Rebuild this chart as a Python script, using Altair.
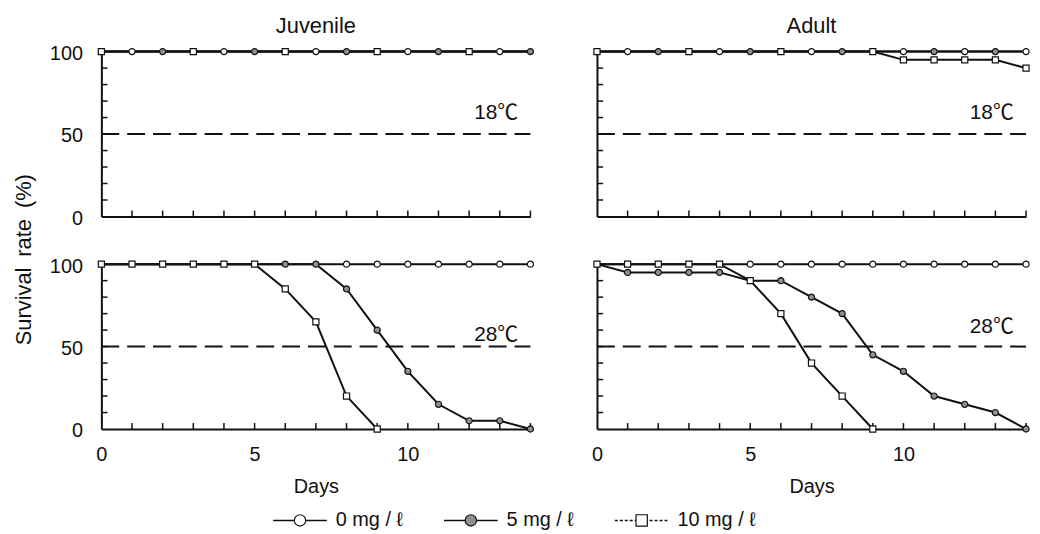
import altair as alt
import pandas as pd

# ---------------- data ----------------
days = [0, 1, 2, 3, 4, 5, 6, 7, 8, 9, 10, 11, 12, 13, 14]
conc_keys = ["0", "5", "10"]
conc_names = ["0 mg/ℓ", "5 mg/ℓ", "10 mg/ℓ"]
legend_labels = ["0 mg / ℓ", "5 mg / ℓ", "10 mg / ℓ"]
stage_titles = ["Juvenile", "Adult"]
temp_labels = ["18℃", "28℃"]

# Juvenile, 18 C
juv18_0 = [100, 100, 100, 100, 100, 100, 100, 100, 100, 100, 100, 100, 100, 100, 100]
juv18_5 = [100, 100, 100, 100, 100, 100, 100, 100, 100, 100, 100, 100, 100, 100, 100]
juv18_10 = [100, 100, 100, 100, 100, 100, 100, 100, 100, 100, 100, 100, 100, 100, 100]
# Adult, 18 C
ad18_0 = [100, 100, 100, 100, 100, 100, 100, 100, 100, 100, 100, 100, 100, 100, 100]
ad18_5 = [100, 100, 100, 100, 100, 100, 100, 100, 100, 100, 100, 100, 100, 100, 100]
ad18_10 = [100, 100, 100, 100, 100, 100, 100, 100, 100, 100, 95, 95, 95, 95, 90]
# Juvenile, 28 C
juv28_0 = [100, 100, 100, 100, 100, 100, 100, 100, 100, 100, 100, 100, 100, 100, 100]
juv28_5 = [100, 100, 100, 100, 100, 100, 100, 100, 85, 60, 35, 15, 5, 5, 0]
juv28_10 = [100, 100, 100, 100, 100, 100, 85, 65, 20, 0]
# Adult, 28 C
ad28_0 = [100, 100, 100, 100, 100, 100, 100, 100, 100, 100, 100, 100, 100, 100, 100]
ad28_5 = [100, 95, 95, 95, 95, 90, 90, 80, 70, 45, 35, 20, 15, 10, 0]
ad28_10 = [100, 100, 100, 100, 100, 90, 70, 40, 20, 0]

x_label_values = [0, 5, 10]
y_label_values = [0, 50, 100]
x_minor_ticks = [1, 2, 3, 4, 5, 6, 7, 8, 9, 10, 11, 12, 13, 14]
y_minor_ticks = [10, 20, 30, 40, 50, 60, 70, 80, 90]
half_line = [50]

# ---------------- styling ----------------
INK = "#111111"
NUM_FONT = '"Liberation Sans Narrow", "Liberation Sans", "Noto Sans CJK JP"'
TXT_FONT = '"Liberation Sans", "Noto Sans CJK JP"'
PW, PH = 432, 166

shape_scale = alt.Scale(domain=conc_names, range=["circle", "circle", "square"])
fill_scale = alt.Scale(domain=conc_names, range=["white", "#8f8f8f", "white"])
size_scale = alt.Scale(domain=conc_names, range=[38, 38, 85])
xs = alt.Scale(domain=[0, 14], nice=False, zero=False)
ys = alt.Scale(domain=[0, 100], nice=False)


def build_df(series, rotate):
    rows = []
    for k, name, vals in zip(conc_keys, conc_names, series):
        for d, v in zip(days, vals):
            rows.append({"day": d, "rate": v, "conc": name, "key": k})
    df = pd.DataFrame(rows)
    rot_order = ["10", "0", "5"]
    pri_order = ["10", "5", "0"]
    show = []
    for _, r in df.iterrows():
        keys = list(df[(df.day == r.day) & (df.rate == r.rate)].key)
        if len(keys) == 1:
            show.append(True)
            continue
        if rotate:
            ordered = [k for k in rot_order if k in keys]
            pick = ordered[int(r.day) % len(ordered)]
        else:
            pick = [k for k in pri_order if k in keys][0]
        show.append(pick == r.key)
    df["show"] = show
    return df


def panel(series, stage, temp, top, left, label_y, rotate):
    df = build_df(series, rotate)

    xkw = dict(values=x_label_values, labels=not top, labelFlush=False,
               labelPadding=16, titlePadding=12)
    xkw["title"] = "" if top else "Days"
    x_axis = alt.Axis(**xkw)

    ykw = dict(values=y_label_values, labels=left, labelPadding=19, labelOffset=2)
    if left and not top:
        ykw.update(title="Survival\u2002rate\u2002(%)", titleX=-78, titleY=-5,
                   titleAngle=270, titleAlign="center", titleBaseline="middle",
                   titleFontSize=22)
    else:
        ykw["title"] = ""
    y_axis = alt.Axis(**ykw)

    def X(f):
        return alt.X(f"{f}:Q", scale=xs, axis=x_axis)

    def Y(f):
        return alt.Y(f"{f}:Q", scale=ys, axis=y_axis)

    dashed = alt.Chart(pd.DataFrame({"rate": half_line})).mark_rule(
        strokeDash=[18, 8], strokeWidth=2, color=INK
    ).encode(x=alt.datum(0), x2=alt.datum(14), y=Y("rate"))

    lines = alt.Chart(df).mark_line(color=INK, strokeWidth=2).encode(
        x=X("day"), y=Y("rate"), detail="conc:N"
    )

    xt = pd.DataFrame({"day": x_minor_ticks})
    xticks = alt.Chart(xt).transform_calculate(rate="0", rate2="3.6").mark_rule(
        color=INK, strokeWidth=1.5
    ).encode(x=X("day"), y=Y("rate"), y2="rate2:Q")

    yt = pd.DataFrame({"rate": y_minor_ticks})
    yticks = alt.Chart(yt).transform_calculate(day="0", day2="0.2").mark_rule(
        color=INK, strokeWidth=1.5
    ).encode(y=Y("rate"), x=X("day"), x2="day2:Q")

    pts = alt.Chart(df).transform_filter("datum.show").mark_point(
        filled=True, stroke=INK, strokeWidth=1.2, opacity=1
    ).encode(
        x=X("day"), y=Y("rate"),
        shape=alt.Shape("conc:N", scale=shape_scale, legend=None),
        fill=alt.Fill("conc:N", scale=fill_scale, legend=None),
        size=alt.Size("conc:N", scale=size_scale, legend=None),
    )

    label = alt.Chart(pd.DataFrame({"t": [temp]})).mark_text(
        align="right", baseline="middle", font=NUM_FONT, fontSize=21, color=INK
    ).encode(x=alt.datum(13.6), y=alt.datum(label_y), text="t:N")

    layers = [dashed, lines, xticks, yticks, pts, label]
    if top:
        head = alt.Chart(pd.DataFrame({"s": [stage]})).mark_text(
            align="center", baseline="alphabetic", font=TXT_FONT, fontSize=22, color=INK
        ).encode(x=alt.datum(7), y=alt.datum(111.4), text="s:N")
        layers.append(head)
    return alt.layer(*layers).properties(width=PW, height=PH)


p1 = panel([juv18_0, juv18_5, juv18_10], stage_titles[0], temp_labels[0], True, True, 63, True)
p2 = panel([ad18_0, ad18_5, ad18_10], stage_titles[1], temp_labels[0], True, False, 63, True)
p3 = panel([juv28_0, juv28_5, juv28_10], stage_titles[0], temp_labels[1], False, True, 57, False)
p4 = panel([ad28_0, ad28_5, ad28_10], stage_titles[1], temp_labels[1], False, False, 62, False)

# ---------------- legend ----------------
legend_df = pd.DataFrame({
    "slot": [0, 1, 2],
    "conc": conc_names,
    "label": legend_labels,
    "row": ["legend", "legend", "legend"],
})
lx = alt.X("slot:Q", scale=alt.Scale(domain=[0, 2], range=[200, 544]), axis=None)
ly = alt.Y("row:N", axis=None)

leg_rule = alt.Chart(legend_df).mark_rule(
    color=INK, strokeWidth=1.5, xOffset=-27, x2Offset=27
).encode(
    x=lx, x2="slot:Q", y=ly,
    strokeDash=alt.StrokeDash("conc:N", scale=alt.Scale(domain=conc_names, range=[[1, 0], [1, 0], [3, 2]]), legend=None),
)
leg_pts = alt.Chart(legend_df).mark_point(
    filled=True, stroke=INK, strokeWidth=1.2, size=130, opacity=1
).encode(
    x=lx, y=ly,
    shape=alt.Shape("conc:N", scale=shape_scale, legend=None),
    fill=alt.Fill("conc:N", scale=fill_scale, legend=None),
)
leg_txt = alt.Chart(legend_df).mark_text(
    align="left", baseline="middle", dx=36, fontSize=20, font=TXT_FONT, color=INK
).encode(x=lx, y=ly, text="label:N")

legend = alt.layer(leg_rule, leg_pts, leg_txt).properties(width=PW, height=88)

chart = alt.concat(
    p1, p2, p3, p4, legend,
    columns=2, spacing={"row": 48, "column": 67}, bounds="flush"
).properties(
    padding={"left": 4, "top": 5, "right": 0, "bottom": 0}
).configure_view(strokeWidth=0).configure_axis(
    domainColor=INK, domainWidth=2, labelColor=INK, titleColor=INK,
    labelFont=NUM_FONT, labelFontSize=20, titleFont=TXT_FONT, titleFontSize=20,
    titleFontWeight="normal", grid=False, ticks=False, tickSize=0
)

chart.save("out.html", embed_options={"renderer": "svg", "actions": False})
